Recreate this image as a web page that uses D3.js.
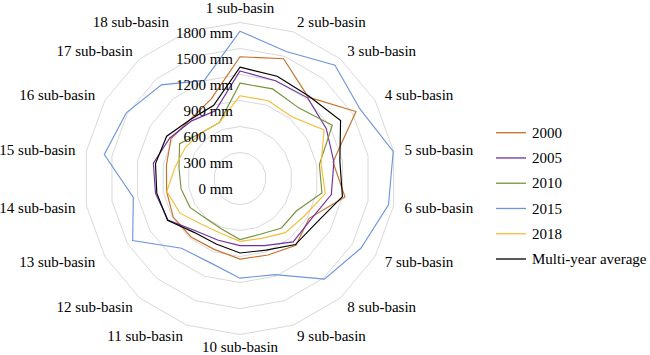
<!DOCTYPE html>
<html>
<head>
<meta charset="utf-8">
<script src="https://cdn.jsdelivr.net/npm/d3@7"></script>
<style>
  html, body { margin: 0; padding: 0; background: #fff; }
  svg { display: block; }
  svg text { font-family: "Times New Roman", "Liberation Serif", "DejaVu Serif", serif; }
</style>
</head>
<body>
<svg id="chart" width="650" height="355"></svg>
<script>
// ---------------- data ----------------
const categories = ["1 sub-basin","2 sub-basin","3 sub-basin","4 sub-basin","5 sub-basin","6 sub-basin",
  "7 sub-basin","8 sub-basin","9 sub-basin","10 sub-basin","11 sub-basin","12 sub-basin",
  "13 sub-basin","14 sub-basin","15 sub-basin","16 sub-basin","17 sub-basin","18 sub-basin"];
const tickValues = [0, 300, 600, 900, 1200, 1500, 1800];
const tickLabels = ["0 mm","300 mm","600 mm","900 mm","1200 mm","1500 mm","1800 mm"];
const seriesNames = ["2000","2005","2010","2015","2018","Multi-year average"];
const s2000 = [1405,1470,1225,1545,1090,1230, 920,1005, 940, 930, 870, 880, 890, 860, 862, 920, 890, 975];
const s2005 = [1240,1200,1215,1150,1100,1070, 945, 955, 825, 775, 755, 790, 960, 990,1015, 935, 868, 830];
const s2010 = [1100,1100,1060,1230, 930, 960, 750, 745, 685, 705, 620, 605, 666, 690, 715, 805, 690, 689];
const s2015 = [1700,1560,1705,1600,1795,1740,1610,1515,1180,1150,1030,1050,1430,1250,1590,1515,1410,1205];
const s2018 = [ 955, 955, 930,1120, 950,1000, 860, 815, 735, 725, 670, 690, 800, 858, 760, 725, 690, 690];
const sAvg  = [1285,1255,1240,1340,1170,1200,1020, 995, 880, 860, 805, 815, 965, 975, 990, 977, 890, 895];
const seriesValues = [s2000, s2005, s2010, s2015, s2018, sAvg];
const colors = ["#C8702A", "#7030A0", "#77933C", "#6F96DA", "#F4BE3C", "#000000"];

// ---------------- layout ----------------
const FONT = "'Liberation Serif', 'Times New Roman', 'DejaVu Serif', serif";
const svg = d3.select("#chart");
const cx = 240, cy = 178.5, R = 156;
const n = categories.length;
const r = d3.scaleLinear().domain([0, 1800]).range([0, R]);
const angle = d3.scaleLinear().domain([0, n]).range([0, 2 * Math.PI]);
const g = svg.append("g").attr("transform", `translate(${cx},${cy})`);

// grid polygons
const gridLine = d3.lineRadial().curve(d3.curveLinearClosed)
  .angle((d, i) => angle(i)).radius(d => r(d));
g.append("g").selectAll("path")
  .data(tickValues.filter(v => v > 0))
  .join("path")
  .attr("d", v => gridLine(d3.range(n).map(() => v)))
  .attr("fill", "none").attr("stroke", "#D9D9D9").attr("stroke-width", 1);

// series
const seriesLine = d3.lineRadial().curve(d3.curveLinearClosed)
  .angle((d, i) => angle(i)).radius(d => r(d));
g.append("g").selectAll("path")
  .data(seriesValues)
  .join("path")
  .attr("d", d => seriesLine(d))
  .attr("fill", "none")
  .attr("stroke", (d, i) => colors[i])
  .attr("stroke-width", 1.15)
  .attr("stroke-linejoin", "miter");

// radial tick labels
g.append("g").selectAll("text")
  .data(tickValues)
  .join("text")
  .attr("x", -7)
  .attr("y", v => -r(v) + 10.5)
  .attr("dy", "0.35em")
  .attr("text-anchor", "end")
  .attr("font-family", FONT)
  .attr("font-size", 15)
  .attr("fill", "#000")
  .text((v, i) => tickLabels[i]);

// category labels
const labelR = 167;
const nudge = {17: -14};
g.append("g").selectAll("text")
  .data(categories)
  .join("text")
  .each(function (d, i) {
    const a = angle(i);
    const s = Math.sin(a), c = Math.cos(a);
    let x = labelR * s, y = -labelR * c;
    let anchor;
    if (Math.abs(s) < 1e-6) {
      anchor = "middle";
      if (c > 0) { y = y - 4; } else { y = y + 1; }
    } else if (s > 0) {
      anchor = "start";
    } else {
      anchor = "end";
    }
    x += (nudge[i] || 0);
    d3.select(this)
      .attr("x", x).attr("y", y).attr("dy", "0.35em")
      .attr("text-anchor", anchor)
      .attr("font-family", FONT)
      .attr("font-size", 15).attr("fill", "#000")
      .text(d);
  });

// legend
const legend = svg.append("g");
const legY = d3.scalePoint().domain(seriesNames).range([132.7, 259]);
seriesNames.forEach((name, i) => {
  const y = legY(name);
  legend.append("line")
    .attr("x1", 496).attr("x2", 526).attr("y1", y).attr("y2", y)
    .attr("stroke", colors[i]).attr("stroke-width", 1.3);
  legend.append("text")
    .attr("x", 532).attr("y", y).attr("dy", "0.35em")
    .attr("font-family", FONT)
    .attr("font-size", 15).attr("fill", "#000")
    .text(name);
});
</script>
</body>
</html>
